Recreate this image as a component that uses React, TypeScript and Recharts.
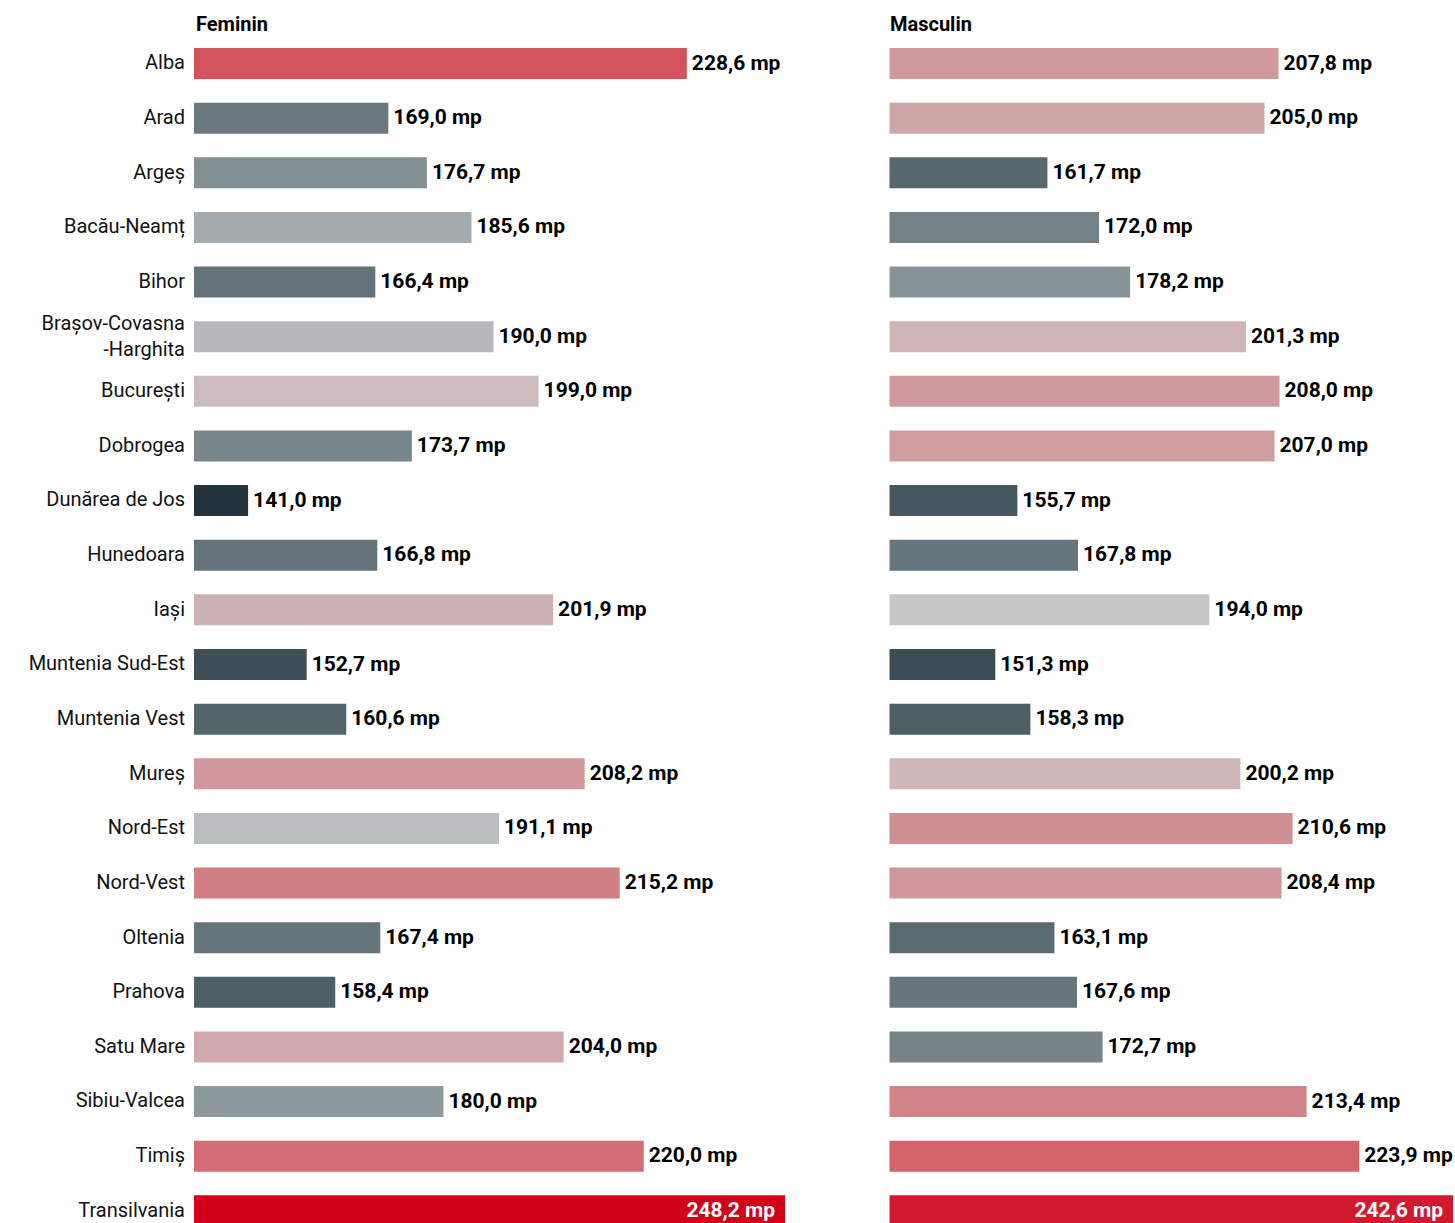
import React from 'react';
import { BarChart, Bar, XAxis, YAxis, Cell, LabelList } from 'recharts';

const categories = [
  'Alba', 'Arad', 'Argeș', 'Bacău-Neamț', 'Bihor', 'Brașov-Covasna-Harghita', 'București',
  'Dobrogea', 'Dunărea de Jos', 'Hunedoara', 'Iași', 'Muntenia Sud-Est', 'Muntenia Vest',
  'Mureș', 'Nord-Est', 'Nord-Vest', 'Oltenia', 'Prahova', 'Satu Mare', 'Sibiu-Valcea',
  'Timiș', 'Transilvania',
];

const feminin = [
  228.6, 169.0, 176.7, 185.6, 166.4, 190.0, 199.0, 173.7, 141.0, 166.8, 201.9,
  152.7, 160.6, 208.2, 191.1, 215.2, 167.4, 158.4, 204.0, 180.0, 220.0, 248.2,
];

const masculin = [
  207.8, 205.0, 161.7, 172.0, 178.2, 201.3, 208.0, 207.0, 155.7, 167.8, 194.0,
  151.3, 158.3, 200.2, 210.6, 208.4, 163.1, 167.6, 172.7, 213.4, 223.9, 242.6,
];

// tick label lines (Brașov one wraps in the original)
const tickLines: Record<string, string[]> = {
  'Brașov-Covasna-Harghita': ['Brașov-Covasna', '-Harghita'],
};

const FONT = 'Roboto, "Noto Sans", sans-serif';
const AXIS_MIN = 130.2;

// diverging colour scale: dark slate -> grey -> red
const colorStops: [number, string][] = [
  [141, '#22333b'],
  [155, '#44555d'],
  [168, '#67777d'],
  [181, '#919ca0'],
  [194.6, '#c8c8c8'],
  [201, '#ceb5b7'],
  [210, '#d09195'],
  [220, '#d46e75'],
  [230, '#d34f58'],
  [248.2, '#d0021b'],
];

function hexToRgb(h: string) {
  return [1, 3, 5].map((i) => parseInt(h.slice(i, i + 2), 16));
}

function colorFor(v: number) {
  if (v <= colorStops[0][0]) return colorStops[0][1];
  for (let i = 1; i < colorStops.length; i++) {
    const [v1, c1] = colorStops[i];
    if (v <= v1) {
      const [v0, c0] = colorStops[i - 1];
      const t = (v - v0) / (v1 - v0);
      const a = hexToRgb(c0);
      const b = hexToRgb(c1);
      const m = a.map((x, k) => Math.round(x + (b[k] - x) * t));
      return `rgb(${m[0]},${m[1]},${m[2]})`;
    }
  }
  return colorStops[colorStops.length - 1][1];
}

const fmt = (v: number) => v.toFixed(1).replace('.', ',') + ' mp';

const CategoryTick = (props: any) => {
  const { x, y, payload } = props;
  const lines = tickLines[payload.value] || [payload.value];
  const lh = 26;
  const y0 = y - 1 - ((lines.length - 1) * lh) / 2;
  return (
    <text x={x} textAnchor="end" fontFamily={FONT} fontSize={20} fill="#111">
      {lines.map((l, i) => (
        <tspan key={i} x={x} y={y0 + i * lh} dominantBaseline="central">
          {l}
        </tspan>
      ))}
    </text>
  );
};

const ValueLabel = (props: any) => {
  const { x, y, width, height, value, index } = props;
  const last = index === categories.length - 1;
  const cy = y + height / 2 - 1;
  return (
    <text
      x={last ? x + width - 10 : x + width + 5}
      y={cy}
      dominantBaseline="central"
      textAnchor={last ? 'end' : 'start'}
      fontFamily={FONT}
      fontWeight={700}
      fontSize={21}
      fill={last ? '#fff' : '#000'}
    >
      {fmt(value)}
    </text>
  );
};

const rows = categories.map((name, i) => ({ name, feminin: feminin[i], masculin: masculin[i] }));

const headerStyle: React.CSSProperties = {
  position: 'absolute',
  top: 14,
  fontFamily: FONT,
  fontWeight: 700,
  fontSize: 20,
  lineHeight: '20px',
  color: '#000',
};

export default function App() {
  const maxF = Math.max(...feminin);
  const maxM = Math.max(...masculin);
  return (
    <div style={{ position: 'absolute', left: 0, top: 0, width: 1455, height: 1223, overflow: 'hidden', background: '#fff' }}>
      <div style={{ ...headerStyle, left: 196 }}>Feminin</div>
      <div style={{ ...headerStyle, left: 890 }}>Masculin</div>

      <div style={{ position: 'absolute', left: 0, top: 0 }}>
        <BarChart
          width={800}
          height={1240}
          data={rows}
          layout="vertical"
          margin={{ top: 36, right: 15, bottom: 2, left: 0 }}
        >
          <XAxis type="number" hide domain={[AXIS_MIN, maxF]} />
          <YAxis
            type="category"
            dataKey="name"
            width={194}
            axisLine={false}
            tickLine={false}
            tickSize={0}
            tickMargin={9}
            interval={0}
            tick={<CategoryTick />}
          />
          <Bar dataKey="feminin" barSize={31} isAnimationActive={false}>
            {rows.map((r, i) => (
              <Cell key={i} fill={colorFor(r.feminin)} />
            ))}
            <LabelList dataKey="feminin" content={<ValueLabel />} />
          </Bar>
        </BarChart>
      </div>

      <div style={{ position: 'absolute', left: 880, top: 0 }}>
        <BarChart
          width={575}
          height={1240}
          data={rows}
          layout="vertical"
          margin={{ top: 36, right: 2, bottom: 2, left: 9.5 }}
        >
          <XAxis type="number" hide domain={[AXIS_MIN, maxM]} />
          <YAxis type="category" dataKey="name" hide />
          <Bar dataKey="masculin" barSize={31} isAnimationActive={false}>
            {rows.map((r, i) => (
              <Cell key={i} fill={colorFor(r.masculin)} />
            ))}
            <LabelList dataKey="masculin" content={<ValueLabel />} />
          </Bar>
        </BarChart>
      </div>
    </div>
  );
}
